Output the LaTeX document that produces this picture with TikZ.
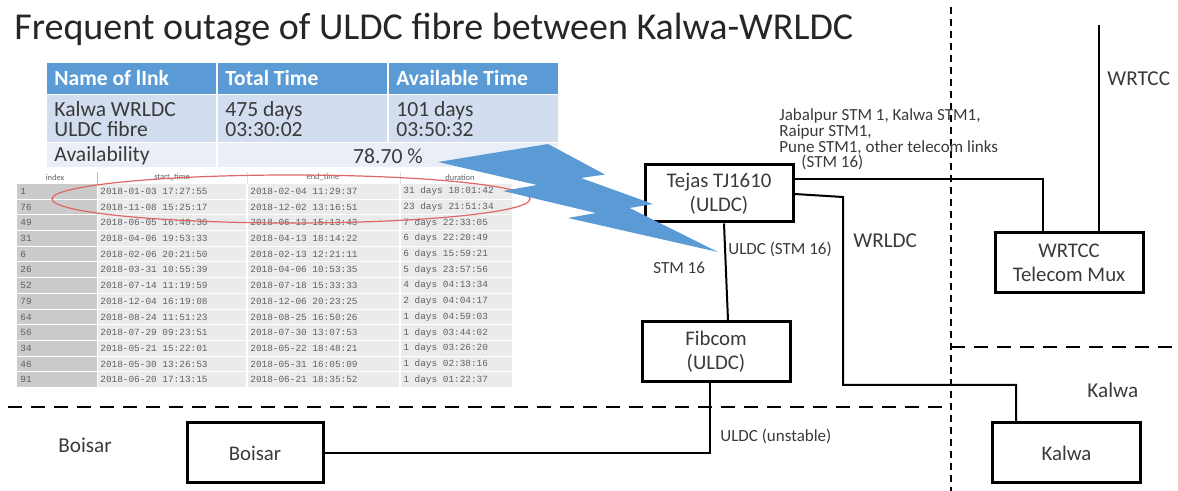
\documentclass[tikz,border=0pt]{standalone}
\usepackage{fontspec}
\setmainfont{Carlito}
\newfontfamily\logfont{Liberation Mono}
\usetikzlibrary{positioning, calc}

\definecolor{tblblue}{HTML}{5B9BD5}
\definecolor{tblrowa}{HTML}{D2DEEF}
\definecolor{tblrowb}{HTML}{EAEFF7}
\definecolor{txtdark}{HTML}{3A3A3A}
\definecolor{idxgray}{HTML}{CBCBCB}
\definecolor{cellgray}{HTML}{EBEBEB}
\definecolor{logtext}{HTML}{606060}
\definecolor{outline}{HTML}{E06666}

\tikzset{
  unit/.style={draw, line width=1.5pt, fill=white, minimum width=74pt, minimum height=30pt,
    inner sep=0pt, align=center, font=\fontsize{10.4}{12}\selectfont, text=txtdark},
  link/.style={line width=1pt},
  zone/.style={line width=1.4pt, dash pattern=on 7pt off 4.5pt},
  zonev/.style={line width=1.4pt, dash pattern=on 3.5pt off 2.5pt},
  tag/.style={font=\fontsize{8.5}{7.9}\selectfont, text=txtdark, inner sep=0pt, anchor=west, align=left},
  site/.style={font=\fontsize{10.6}{12}\selectfont, text=txtdark, inner sep=0pt, anchor=west},
  hdr/.style={font=\bfseries\fontsize{10.8}{12}\selectfont, text=white, inner sep=0pt, anchor=west},
  cell/.style={font=\fontsize{10.8}{10}\selectfont, text=txtdark, inner sep=0pt, anchor=west, align=left},
  logtxt/.style={font=\logfont\fontsize{4.7}{5}\selectfont, text=logtext, inner sep=0pt, anchor=west},
  loghdr/.style={font=\fontsize{4.2}{5}\selectfont, text=logtext, inner sep=0pt},
}

\begin{document}
\begin{tikzpicture}[x=0.5pt, y=-0.5pt]
    \useasboundingbox (0,0) rectangle (1178,491);

    % Title
    \node[anchor=base west, inner sep=0pt, font=\fontsize{19}{22}\selectfont, text=black!85] (title)
        at (14,40) {Frequent outage of ULDC fibre between Kalwa-WRLDC};

    % Availability table
    \fill[tblblue] (47,63) rectangle (558,94);
    \fill[tblrowa] (47,95.5) rectangle (558,142);
    \fill[tblrowb] (47,143.5) rectangle (558,167);
    \draw[white, line width=0.8pt] (217,63) -- (217,167);
    \draw[white, line width=0.8pt] (388,63) -- (388,142);
    \node[hdr] (hName) at (54,78.5) {Name of lInk};
    \node[hdr] (hTotal) at (225,78.5) {Total Time};
    \node[hdr] (hAvail) at (396,78.5) {Available Time};
    \node[cell] (cName) at (54,119) {Kalwa WRLDC\\ULDC fibre};
    \node[cell] (cTotal) at (225,119) {475 days\\03:30:02};
    \node[cell] (cAvail) at (396,119) {101 days\\03:50:32};
    \node[cell] (cAvl) at (54,156) {Availability};
    \node[cell, anchor=center] (cPct) at (388,156) {78.70 \%};

    % Outage log
    \draw[black!25, line width=0.4pt] (97,172) -- (97,184);
    \draw[black!12, line width=0.4pt] (247,172) -- (247,184) (400,172) -- (400,184);
    \node[loghdr] (lIdx) at (55,177.5) {index};
    \node[loghdr] (lStart) at (172,177.5) {start\_time};
    \node[loghdr] (lEnd) at (323,177.5) {end\_time};
    \node[loghdr] (lDur) at (460,177.5) {duration};
    \foreach \idx/\st/\en/\du [count=\r] in {
        1/2018-01-03 17:27:55/2018-02-04 11:29:37/31 days 18:01:42,
        76/2018-11-08 15:25:17/2018-12-02 13:16:51/23 days 21:51:34,
        49/2018-06-05 16:40:38/2018-06-13 15:13:43/7 days 22:33:05,
        31/2018-04-06 19:53:33/2018-04-13 18:14:22/6 days 22:20:49,
        6/2018-02-06 20:21:50/2018-02-13 12:21:11/6 days 15:59:21,
        26/2018-03-31 10:55:39/2018-04-06 10:53:35/5 days 23:57:56,
        52/2018-07-14 11:19:59/2018-07-18 15:33:33/4 days 04:13:34,
        79/2018-12-04 16:19:08/2018-12-06 20:23:25/2 days 04:04:17,
        64/2018-08-24 11:51:23/2018-08-25 16:50:26/1 days 04:59:03,
        56/2018-07-29 09:23:51/2018-07-30 13:07:53/1 days 03:44:02,
        34/2018-05-21 15:22:01/2018-05-22 18:48:21/1 days 03:26:20,
        46/2018-05-30 13:26:53/2018-05-31 16:05:09/1 days 02:38:16,
        91/2018-06-20 17:13:15/2018-06-21 18:35:52/1 days 01:22:37}{
        \pgfmathsetmacro\ry{184+(\r-1)*15.7}
        \fill[idxgray] (17,\ry) rectangle (97,\ry+14.7);
        \fill[cellgray] (98,\ry) rectangle (512,\ry+14.7);
        \node[logtxt] (idx-\r) at (20,\ry+7.35) {\idx};
        \node[logtxt] (st-\r) at (100,\ry+7.35) {\st};
        \node[logtxt] (en-\r) at (250,\ry+7.35) {\en};
        \node[logtxt] (du-\r) at (403,\ry+7.35) {\du};
    }
    \draw[white, line width=0.6pt] (247,184) -- (247,388) (400,184) -- (400,388);

    % Ring round the two longest outages
    \draw[outline, line width=0.6pt] (291,199) ellipse [x radius=119.5pt, y radius=12pt];

    % Zone boundaries
    \draw[zonev] (951,7) -- (951,491);
    \draw[zone] (951,347) -- (1178,347);
    \draw[zone] (8,407) -- (951,407);

    % Equipment
    \node[unit, minimum height=28.5pt] (tejas) at (719,193.5) {Tejas TJ1610\\(ULDC)};
    \node[unit] (fibcom) at (716,352) {Fibcom\\(ULDC)};
    \node[unit] (wrtcc) at (1069,263) {WRTCC\\Telecom Mux};
    \node[unit] (kalwa) at (1066.5,453) {Kalwa};
    \node[unit, minimum width=68pt] (boisar) at (255,453) {Boisar};

    % Links
    \coordinate (wrtccEnd) at (1099,25);
    \coordinate (wrldcBend) at (843,197);
    \coordinate (wrldcLow) at (843,385);
    \draw[link] ([yshift=7.25pt]tejas.east) -| ([xshift=-13pt]wrtcc.north);
    \draw[link] ([xshift=15pt]wrtcc.north) -- (wrtccEnd);
    \draw[link] ([yshift=-0.25pt]tejas.east) -- (wrldcBend) -- (wrldcLow) -| ([xshift=-25.25pt]kalwa.north);
    \draw[link] ([xshift=2.5pt]tejas.south) -- ([xshift=6pt]fibcom.north);
    \draw[link] ([xshift=-3pt]fibcom.south) |- (boisar.east);

    % Lightning bolt from the table to the Tejas node
    \fill[tblblue] (438,162) -- (548,144) -- (605,174.5) -- (581,178) -- (653,204) -- (629.5,208)
        -- (718,252) -- (568,218) -- (596,213) -- (503,191) -- (537,185) -- cycle;

    % Link labels
    \node[tag] (trunk) at (779,139.5) {Jabalpur STM 1, Kalwa STM1,\\Raipur STM1,\\Pune STM1, other telecom links\\\hspace*{11pt}(STM 16)};
    \node[tag] (uldc) at (728,249) {ULDC (STM 16)};
    \node[tag] (stm) at (653,268) {STM 16};
    \node[tag] (unstable) at (720,436) {ULDC (unstable)};
    \node[site] (wrldcTag) at (853,241) {WRLDC};
    \node[site] (wrtccTag) at (1107,79) {WRTCC};
    \node[site] (kalwaTag) at (1087,390) {Kalwa};
    \node[site] (boisarTag) at (58,445) {Boisar};

\end{tikzpicture}
\end{document}
